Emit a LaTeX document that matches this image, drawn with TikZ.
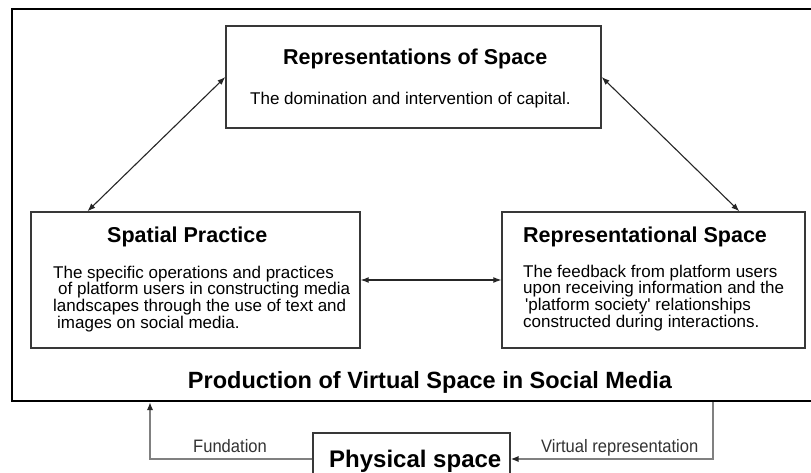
\documentclass[tikz,border=0pt]{standalone}
\usepackage{fontspec}
\setmainfont{Liberation Sans}
\newfontfamily\narrowsans[FakeStretch=0.92]{Liberation Sans}
\usetikzlibrary{arrows.meta,calc}

\begin{document}
\begin{tikzpicture}[x=1pt,y=-1pt,
  frame/.style={draw=black!78, line width=1.4pt, rectangle, inner sep=0pt},
  outerframe/.style={draw=black, line width=2.4pt, rectangle, inner sep=0pt},
  link/.style={draw=black!85, line width=1.1pt,
    {Latex[length=8pt,width=6pt]}-{Latex[length=8pt,width=6pt]}},
  feed/.style={draw=black!50, line width=1.6pt,
    -{Latex[length=8pt,width=6.5pt,color=black!85]}},
  title/.style={font=\fontsize{21.5}{24}\selectfont\bfseries, inner sep=0pt, anchor=base west},
  body/.style={font=\fontsize{17}{15.7}\selectfont, inner sep=0pt, anchor=base west},
  tag/.style={font=\narrowsans\fontsize{18}{20}\selectfont, inner sep=0pt, anchor=base west, text=black!80}]

\useasboundingbox (0,0) rectangle (811,473);

% frame around the virtual space
\node[outerframe, minimum width=800pt, minimum height=392pt] (world) at (412,205) {};

% the three moments of the spatial triad
\node[frame, minimum width=375pt, minimum height=102pt] (rs)  at (413.5,77) {};
\node[frame, minimum width=329pt, minimum height=136pt] (sp)  at (195.5,280) {};
\node[frame, minimum width=303pt, minimum height=136pt] (rsp) at (653.5,280) {};

% physical space below
\node[frame, minimum width=197pt, minimum height=52pt] (phys) at (411.5,459) {};

% texts
\node[title] (rstitle) at (283,65) {Representations of Space};
\node[body]  (rsbody)  at (250,105) {The domination and intervention of capital.};

\node[title] (sptitle) at (107,243) {Spatial Practice};
\node[body]  (spbody)  at (53,278) {\parbox[t]{300pt}{The specific operations and practices\\
  \hspace*{5pt}of platform users in constructing media\\
  landscapes through the use of text and\\
  \hspace*{4pt}images on social media.}};

\node[title] (rsptitle) at (523,243) {Representational Space};
\node[body]  (rspbody)  at (523,277) {\parbox[t]{280pt}{The feedback from platform users\\
  upon receiving information and the\\
  \hspace*{2pt}\textquotesingle platform society\textquotesingle\ relationships\\
  constructed during interactions.}};

\node[font=\fontsize{23.5}{26}\selectfont\bfseries, inner sep=0pt, anchor=base] (prod) at (430,388)
  {Production of Virtual Space in Social Media};

\node[font=\fontsize{24}{26}\selectfont\bfseries, inner sep=0pt, anchor=base west] (physlabel) at (329,467)
  {Physical space};

\node[tag] (fund) at (193,452) {Fundation};
\node[tag] (virt) at (541,452) {Virtual representation};

% connectors inside the triad
\draw[link] (rs.west) -- ($(sp.north west)!0.173!(sp.north east)$);
\draw[link] (rs.east) -- ($(rsp.north west)!0.782!(rsp.north east)$);
\draw[link] (sp.east) -- (rsp.west);

% links between physical and virtual space
\coordinate (fundX) at (150,0);
\coordinate (virtX) at (713,0);
\draw[feed] (phys.west) -| (fundX |- world.south);
\draw[feed] (virtX |- world.south) |- (phys.east);

\end{tikzpicture}
\end{document}
